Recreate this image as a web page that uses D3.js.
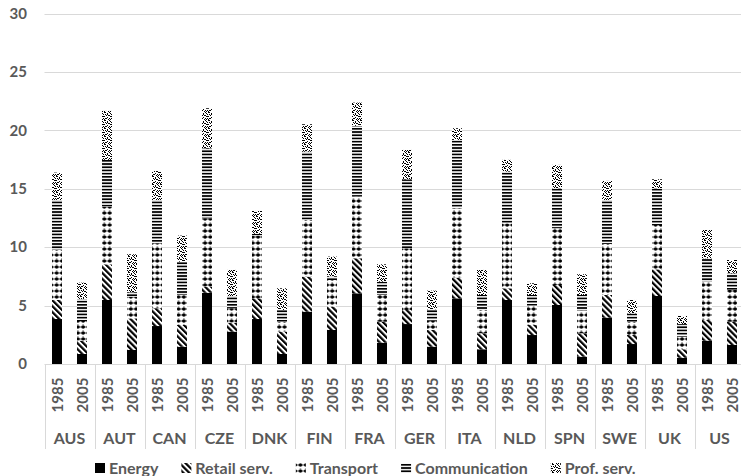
<!DOCTYPE html>
<html><head><meta charset="utf-8">
<script src="https://cdn.jsdelivr.net/npm/d3@7"></script>
<style>
html,body{margin:0;padding:0;background:#fff;}
svg{display:block;}
text{font-family:Lato,"Open Sans",sans-serif;font-weight:700;fill:#595959;}
</style></head>
<body><svg id="c" width="741" height="476"></svg>
<script>
const countries = ["AUS","AUT","CAN","CZE","DNK","FIN","FRA","GER","ITA","NLD","SPN","SWE","UK","US"];
const years = ["1985","2005"];
const seriesNames = ["Energy","Retail serv.","Transport","Communication","Prof. serv."];
// one value per bar, ordered AUS-1985, AUS-2005, AUT-1985, ...
const energy =        [3.85,0.86, 5.48,1.20, 3.25,1.48, 6.10,2.77, 3.85,0.86, 4.48,2.91, 6.05,1.83, 3.42,1.48, 5.62,1.26, 5.48,2.48, 5.05,0.63, 3.97,1.71, 5.82,0.54, 2.00,1.63];
const retail =        [1.63,1.14, 3.05,2.70, 1.52,1.86, 0.52,0.77, 1.77,1.91, 3.00,2.00, 3.00,1.79, 1.20,1.43, 1.77,1.37, 1.00,0.86, 1.71,2.00, 1.94,0.77, 2.28,0.72, 1.77,1.99];
const transport =     [4.28,1.68, 4.94,1.86, 5.56,2.56, 5.85,1.23, 5.38,0.85, 4.85,2.28, 5.28,2.29, 5.28,0.80, 5.94,1.99, 5.56,1.65, 4.86,1.94, 4.36,1.14, 3.80,1.08, 3.28,2.72];
const communication = [4.28,1.89, 4.00,0.38, 3.71,2.86, 5.99,1.05, 0.15,1.00, 5.85,0.29, 6.05,1.14, 5.91,0.97, 5.85,1.29, 4.43,0.92, 3.42,1.34, 3.77,0.72, 3.14,1.08, 2.00,1.42];
const profServ =      [2.34,1.39, 4.19,3.25, 2.48,2.23, 3.43,2.23, 1.95,1.86, 2.34,1.71, 1.99,1.48, 2.51,1.60, 1.00,2.14, 1.00,1.00, 2.00,1.77, 1.63,1.14, 0.77,0.69, 2.42,1.14];
const yTicks = [0,5,10,15,20,25,30];

const seriesVals = [energy, retail, transport, communication, profServ];
const keys = ["e","r","t","c","p"];
const rows = [];
countries.forEach((c,i)=>years.forEach((yr,j)=>{
  const k = i*2+j; const o = {id:c+"-"+yr, country:c, year:yr};
  keys.forEach((kk,s)=>o[kk]=seriesVals[s][k]); rows.push(o);
}));

const svg = d3.select("#c");
const defs = svg.append("defs");
// patterns
const pE = defs.append("pattern").attr("id","pat0").attr("patternUnits","userSpaceOnUse").attr("width",4).attr("height",4);
pE.append("rect").attr("width",4).attr("height",4).attr("fill","#000");
const pR = defs.append("pattern").attr("id","pat1").attr("patternUnits","userSpaceOnUse").attr("width",4.2).attr("height",10).attr("patternTransform","rotate(-45)");
pR.append("rect").attr("width",4.2).attr("height",10).attr("fill","#fff");
pR.append("rect").attr("width",2.2).attr("height",10).attr("fill","#000");
const pT = defs.append("pattern").attr("id","pat2").attr("patternUnits","userSpaceOnUse").attr("width",5.3).attr("height",6).attr("x",1).attr("y",0);
pT.append("rect").attr("width",5.3).attr("height",6).attr("fill","#fff");
pT.append("line").attr("x1",0).attr("x2",5.3).attr("y1",3).attr("y2",3).attr("stroke","#000").attr("stroke-width",0.7);
pT.append("line").attr("x1",2.65).attr("x2",2.65).attr("y1",0).attr("y2",6).attr("stroke","#000").attr("stroke-width",0.6).attr("stroke-dasharray","1,2");
pT.append("circle").attr("cx",2.65).attr("cy",3).attr("r",1.8).attr("fill","#000");
const pC = defs.append("pattern").attr("id","pat3").attr("patternUnits","userSpaceOnUse").attr("width",4).attr("height",3.2);
pC.append("rect").attr("width",4).attr("height",3.2).attr("fill","#fff");
pC.append("rect").attr("width",4).attr("height",1.7).attr("fill","#000");
const pP = defs.append("pattern").attr("id","pat4").attr("patternUnits","userSpaceOnUse").attr("width",8).attr("height",8);
pP.append("rect").attr("width",8).attr("height",8).attr("fill","#fff");
const speck = [[0,0],[1,0],[3,1],[5,0],[6,1],[7,2],[1,2],[2,3],[4,3],[5,3],[0,4],[6,4],[3,5],[1,6],[2,6],[5,6],[7,6],[4,7],[0,7],[6,7],[3,2],[7,4]];
pP.selectAll("rect.s").data(speck).join("rect").attr("class","s").attr("x",d=>d[0]).attr("y",d=>d[1]).attr("width",1).attr("height",1).attr("fill","#000").attr("shape-rendering","crispEdges");

const plotL = 44.5, plotR = 744.5, plotT = 13.5, plotB = 364;
const x = d3.scaleBand().domain(rows.map(d=>d.id)).range([plotL,plotR]).paddingInner(0.6).paddingOuter(0.3);
const y = d3.scaleLinear().domain([0,30]).range([plotB,plotT]);

// gridlines
svg.append("g").selectAll("line").data(yTicks).join("line")
  .attr("x1",plotL).attr("x2",741).attr("y1",d=>Math.round(y(d))+0.5).attr("y2",d=>Math.round(y(d))+0.5)
  .attr("stroke","#d9d9d9").attr("stroke-width",1);
// y axis labels
const yAxis = d3.axisLeft(y).tickValues(yTicks).tickSize(0).tickPadding(0);
const ya = svg.append("g").attr("transform","translate(27,0)").call(yAxis);
ya.select(".domain").remove();
ya.selectAll("text").style("font-size","15px").attr("fill","#595959").style("font-family","Lato").style("font-weight","700");

// category separators
const groupStep = x.step()*2;
const seps = d3.range(countries.length+1);
svg.append("g").selectAll("line").data(seps).join("line")
  .attr("x1",i=>Math.round(plotL+i*groupStep)+0.5).attr("x2",i=>Math.round(plotL+i*groupStep)+0.5)
  .attr("y1",plotB).attr("y2",449).attr("stroke","#d9d9d9");

// bars
const stack = d3.stack().keys(keys)(rows);
svg.append("g").selectAll("g").data(stack).join("g")
  .attr("fill",(d,i)=>`url(#pat${i})`)
  .selectAll("rect").data(d=>d).join("rect")
  .attr("x",d=>x(d.data.id)).attr("width",x.bandwidth())
  .attr("y",d=>y(d[1])).attr("height",d=>y(d[0])-y(d[1]));

// year labels
svg.append("g").selectAll("text").data(rows).join("text")
  .attr("transform",d=>`translate(${x(d.id)+x.bandwidth()/2+5.5},395) rotate(-90)`)
  .attr("text-anchor","middle").style("font-size","15px").text(d=>d.year);
// country labels
svg.append("g").selectAll("text").data(countries).join("text")
  .attr("x",(c,i)=>plotL+(i+0.5)*groupStep).attr("y",444)
  .attr("text-anchor","middle").style("font-size","16px").text(c=>c);

// legend
const lg = svg.append("g");
let lx = 95;
seriesNames.forEach((n,i)=>{
  lg.append("rect").attr("x",lx).attr("y",463).attr("width",10).attr("height",10).attr("fill",`url(#pat${i})`);
  const t = lg.append("text").attr("x",lx+14).attr("y",474).style("font-size","16px").text(n);
  lx += 14 + t.node().getComputedTextLength() + 23;
});
</script></body></html>
